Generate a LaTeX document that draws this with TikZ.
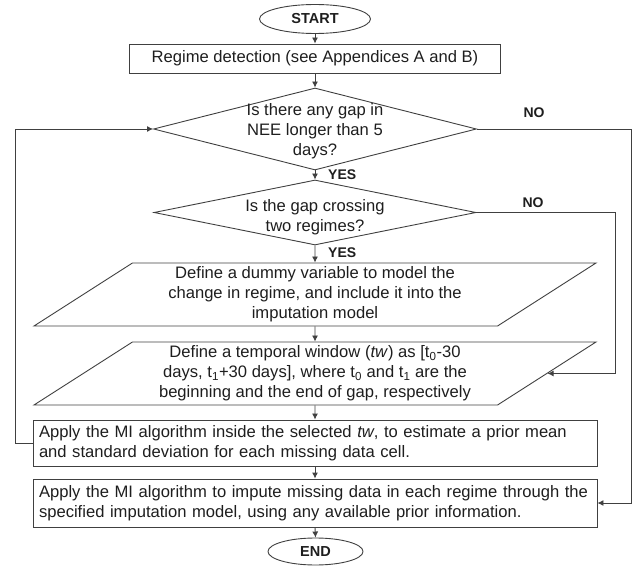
\documentclass[tikz,border=0pt]{standalone}
\usepackage{fontspec}
\setmainfont{Liberation Sans}
\usetikzlibrary{shapes.geometric,arrows.meta,positioning}
\definecolor{lineg}{HTML}{404040}
\definecolor{textg}{HTML}{1E1E1E}

\begin{document}
\begin{tikzpicture}[x=1pt,y=-1pt,font=\fontsize{16.6}{20}\selectfont,text=textg,
  term/.style={ellipse,draw=lineg,line width=0.9pt,minimum width=111pt,minimum height=29pt,inner sep=0pt,font=\fontsize{14.5}{16}\selectfont\bfseries},
  box/.style={rectangle,draw=lineg,line width=0.9pt,inner sep=0pt},
  quest/.style={diamond,draw=lineg,line width=0.9pt,inner sep=0pt},
  qtext/.style={align=center,inner sep=0pt},
  para/.style={trapezium,trapezium left angle=29.4,trapezium right angle=150.6,trapezium stretches body,draw=lineg,line width=0.9pt,minimum width=562pt,minimum height=63pt,inner sep=0pt,align=center},
  apply/.style={box,text width=552pt,align=left,inner xsep=6pt},
  tag/.style={font=\fontsize{14}{16}\selectfont\bfseries,inner sep=0pt},
  arr/.style={draw=lineg,line width=0.9pt,-{Latex[length=6pt,width=6pt]}}]
\useasboundingbox (0,0) rectangle (633,567);
\node[term] (start) at (315,19) {START};
\node[box,minimum width=371pt,minimum height=29pt] (regime) at (315,58.5) {Regime detection (see Appendices A and B)};
\node[quest,minimum width=323pt,minimum height=82pt] (q1) at (315,129) {};
\node[qtext] (q1t) at (315,131) {Is there any gap in\\NEE longer than 5\\days?};
\node[quest,minimum width=322pt,minimum height=65pt] (q2) at (315,212.5) {};
\node[qtext] (q2t) at (315,217) {Is the gap crossing\\two regimes?};
\node[para] (def1) at (315,294.5) {Define a dummy variable to model the\\change in regime, and include it into the\\imputation model};
\node[para] (def2) at (315,373.5) {Define a temporal window (\textit{tw}) as [t\textsubscript{0}-30\\days, t\textsubscript{1}+30 days], where t\textsubscript{0} and t\textsubscript{1} are the\\beginning and the end of gap, respectively};
\node[apply,minimum height=46pt] (mi1) at (315,443) {Apply the MI algorithm inside the selected \textit{tw}, to estimate a prior mean\\and standard deviation for each missing data cell.};
\node[apply,minimum height=48pt] (mi2) at (315,503) {Apply the MI algorithm to impute missing data in each regime through the\\specified imputation model, using any available prior information.};
\node[term,minimum width=95pt,minimum height=27pt] (end) at (315.5,551.5) {END};
\node[tag,anchor=west] (yes1) at (328,175) {YES};
\node[tag,anchor=west] (yes2) at (328,253) {YES};
\node[tag] (no1) at (534,113) {NO};
\node[tag] (no2) at (533,203) {NO};
\coordinate (r1) at (631,129);
\coordinate (r2) at (615,212.5);
\coordinate (back) at (15,129);
\foreach \a/\b in {start/regime,regime/q1,q1/q2,q2/def1,def1/def2,def2/mi1,mi1/mi2,mi2/end}
  \draw[arr] (\a.south) -- (\b.north);
\draw[arr] (q1.east) -- (r1) |- (mi2.east);
\draw[arr] (q2.east) -- (r2) |- (def2);
\draw[arr] (mi1.west) -| (back) -- (q1.west);
\end{tikzpicture}
\end{document}
